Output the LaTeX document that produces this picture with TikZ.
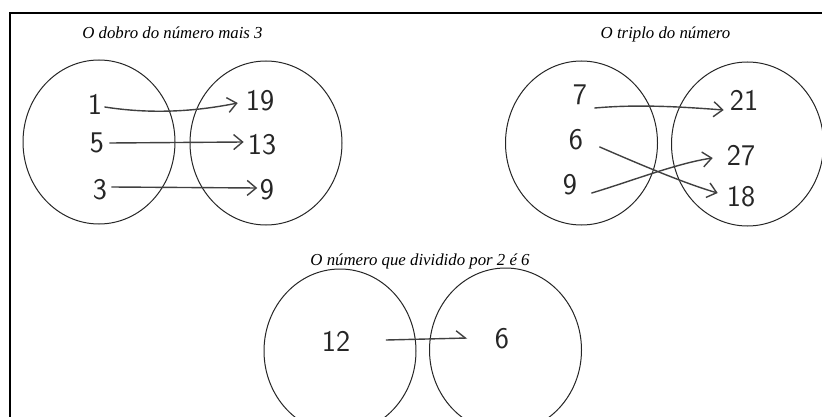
\documentclass[tikz,border=0pt]{standalone}
\usepackage{fontspec}
\setmainfont{Liberation Serif}
\usetikzlibrary{arrows.meta,shapes.geometric,calc}
\begin{document}
\begin{tikzpicture}[x=1pt,y=-1pt,
  setbox/.style={draw=black!85, line width=1pt, ellipse, minimum width=152pt, minimum height=164pt, inner sep=0pt},
  titletext/.style={font=\fontsize{16.8}{20}\selectfont\itshape, anchor=base, inner sep=0pt},
  num/.style={font=\fontsize{30}{32}\selectfont\sffamily, inner sep=0pt, text=black!85},
  map/.style={line width=1.4pt, draw=black!75, line cap=round, -{Straight Barb[length=9pt,width=15pt,line width=1.4pt]}},
  halfmap/.style={line width=1.4pt, draw=black!75, line cap=round, -{Straight Barb[length=9pt,width=15pt,line width=1.4pt,left]}},
]
\useasboundingbox (0,0) rectangle (822,417);
\clip (0,0) rectangle (822,417);
\fill[white] (0,0) rectangle (822,417);
% frame
\draw[line width=2.2pt] (10,420) -- (10,13) -- (825,13);
% sets
\node[setbox] (A) at (99,142) {};
\node[setbox] (B) at (266,143) {};
\node[setbox] (C) at (581.5,143) {};
\node[setbox] (D) at (747.5,144) {};
\node[setbox] (E) at (340,351) {};
\node[setbox] (F) at (505.5,350) {};
% titles
\node[titletext] (t1) at (172.5,39) {O dobro do número mais 3};
\node[titletext] (t2) at (665.5,39) {O triplo do número};
\node[titletext] (t3) at (420,265) {O número que dividido por 2 é 6};
% numbers
\node[num] (a1) at (95,104) {1};
\node[num] (a2) at (97,143) {5};
\node[num] (a3) at (100,190) {3};
\node[num] (b1) at (260,101) {19};
\node[num] (b2) at (262,145) {13};
\node[num] (b3) at (267,190) {9};
\node[num] (c1) at (580,95) {7};
\node[num] (c2) at (576,140) {6};
\node[num] (c3) at (570,185) {9};
\node[num] (d1) at (744,100) {21};
\node[num] (d2) at (741,156) {27};
\node[num] (d3) at (741,197) {18};
\node[num] (e1) at (336,341) {12};
\node[num] (f1) at (502,339) {6};
% mappings
\draw[map] ($(a1.east)+(2.5,3)$) .. controls +(45,7) and +(-45,9) .. ($(b1.west)+(-8,2)$);
\draw[map] ($(a2.east)+(5.5,0)$) -- ($(b2.west)+(-4,-3)$);
\draw[map] ($(a3.east)+(4.5,-3)$) -- ($(b3.west)+(-2.5,-2)$);
\draw[map] ($(c1.east)+(7.5,13)$) .. controls +(45,-4) and +(-40,-3) .. ($(d1.west)+(-6,10)$);
\draw[map] ($(c2.east)+(16.5,7)$) .. controls +(30,13) and +(-35,-10) .. ($(d3.west)+(-9,-4)$);
\draw[map] ($(c3.east)+(14.5,8)$) .. controls +(40,-12) and +(-35,5) .. ($(d2.west)+(-14,2)$);
\draw[halfmap] ($(e1.east)+(36,-1)$) -- ($(f1.west)+(-27.5,-1)$);
\end{tikzpicture}
\end{document}
